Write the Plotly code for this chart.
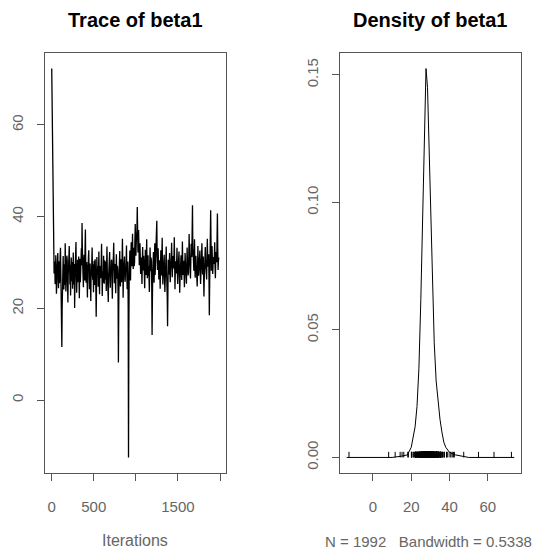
import plotly.graph_objects as go

# ---- data ----
# samples read at iterations 1, 9, 17, ... (every 8th)
trace_values_a = [
    72.3, 55.1, 40.2, 33.4, 29.1, 25.3, 31.6, 23.2, 28.7, 32.1,
    24.4, 30.3, 26.8, 33.2, 22.5, 11.6, 27.3, 31.4, 24.1, 29.6,
    34.2, 23.7, 27.1, 30.5, 21.3, 28.4, 33.6, 25.2, 22.8, 31.1,
    27.6, 24.3, 32.2, 26.4, 20.1, 29.3, 34.5, 23.4, 28.2, 25.7,
    31.3, 22.2, 30.8, 27.2, 33.1, 38.6, 29.5, 24.6, 31.7, 26.1,
    37.2, 25.6, 30.1, 22.4, 28.3, 32.7, 24.2, 29.8, 21.6, 27.4,
    33.3, 26.2, 23.5, 30.4, 25.1, 28.6, 18.2, 31.2, 27.8, 24.7,
    32.4, 23.1, 29.2, 26.6, 34.1, 22.7, 28.1, 31.5, 25.4, 27.7,
    30.2, 23.8, 33.5, 26.3, 21.4, 29.4, 32.3, 24.5, 27.5, 30.6,
    22.1, 28.8, 34.3, 25.5, 29.7, 23.3, 31.8, 26.5, 28.5, 8.2,
    27.2, 32.5, 24.8, 30.7, 26.7, 35.2, 22.3, 29.1, 31.3, 25.8,
    28.4, 33.7, 24.2, 30.2, -12.5, 27.1, 32.6, 26.1, 34.4, 29.2,
    36.3, 28.6, 33.2, 30.1, 38.4, 31.5, 35.3, 42.1, 32.2, 37.1,
    29.4, 34.2, 27.5, 31.1, 25.3, 33.4, 28.3, 30.6, 24.4, 32.8,
    27.3, 35.1, 26.6, 31.6, 29.2, 23.6, 33.3, 28.1, 30.3, 14.2,
    27.7, 32.3, 25.6, 34.2, 29.6, 31.2, 39.1, 28.4, 33.1, 26.3,
    30.5, 24.3, 32.7, 27.2, 35.4, 25.2, 29.3, 31.7, 23.6, 28.2,
    33.5, 26.4, 16.1, 30.6, 27.4, 32.1, 25.7, 29.1, 34.3, 26.8,
    31.4, 28.7, 35.5, 24.2, 30.3, 27.6, 33.2, 25.3, 29.5, 32.4,
    23.4, 28.3, 31.6, 26.2, 34.6, 27.3, 30.4, 24.6, 32.1, 28.5,
    25.4, 33.3, 29.2, 27.7, 36.2, 30.1, 26.5, 34.1, 31.2, 42.5,
    32.3, 28.2, 35.1, 26.7, 31.5, 29.4, 24.8, 33.6, 27.1, 30.7,
    32.6, 25.3, 29.6, 34.2, 27.4, 31.3, 22.6, 30.2, 33.4, 28.6,
    26.3, 35.2, 29.1, 31.8, 18.5, 30.4, 41.4, 28.2, 33.6, 27.5,
    31.2, 29.7, 34.4, 26.6, 32.3, 30.1, 40.7, 28.4, 31.1,
]
iterations_a = list(range(1, 1993, 8))

# samples read at iterations 5, 13, 21, ...
trace_values_b = [
    63.2, 47.4, 36.1, 27.6, 30.2, 26.4, 29.3, 25.8, 31.1, 27.2,
    28.3, 25.5, 31.4, 27.8, 24.6, 20.2, 30.1, 26.7, 28.4, 25.1,
    29.2, 26.3, 31.5, 24.8, 27.4, 31.2, 26.6, 29.5, 27.3, 25.9,
    30.1, 28.4, 25.2, 29.7, 26.1, 32.3, 27.5, 26.2, 30.6, 29.1,
    26.5, 28.2, 25.7, 31.3, 29.4, 33.1, 26.8, 30.2, 27.6, 33.4,
    29.3, 28.6, 26.1, 29.5, 31.2, 26.6, 28.1, 25.4, 27.7, 30.3,
    27.1, 29.6, 28.3, 25.5, 30.7, 24.4, 26.2, 27.3, 29.2, 28.8,
    26.4, 29.1, 27.6, 30.2, 28.5, 27.2, 25.6, 28.4, 30.5, 26.3,
    27.5, 29.4, 28.1, 24.7, 27.2, 30.1, 26.6, 28.7, 30.4, 25.3,
    27.8, 31.2, 28.3, 27.1, 25.6, 28.4, 27.4, 29.3, 22.5, 20.1,
    29.6, 27.2, 28.5, 25.7, 31.1, 28.3, 27.6, 30.2, 26.4, 28.1,
    30.5, 27.3, 28.6, 20.4, 15.2, 29.1, 28.2, 31.3, 30.4, 33.2,
    31.6, 32.4, 29.2, 35.1, 33.5, 34.3, 37.2, 35.6, 33.1, 31.4,
    32.2, 29.5, 30.3, 27.4, 30.6, 29.2, 31.5, 27.7, 29.1, 28.3,
    30.4, 28.2, 30.7, 27.1, 26.3, 29.6, 30.2, 31.1, 24.5, 22.2,
    29.4, 28.1, 30.6, 27.3, 32.2, 33.4, 31.3, 30.1, 28.6, 29.2,
    27.4, 29.1, 28.3, 31.2, 28.7, 27.1, 30.3, 26.5, 26.2, 30.1,
    28.4, 22.3, 25.2, 28.6, 30.1, 27.5, 28.2, 31.1, 29.3, 29.7,
    30.2, 31.3, 29.4, 28.1, 29.6, 30.4, 28.5, 27.2, 31.6, 28.3,
    26.2, 30.5, 28.1, 29.3, 30.2, 29.6, 27.5, 28.4, 30.1, 27.3,
    29.1, 30.3, 27.2, 31.4, 32.1, 28.5, 30.2, 32.3, 35.4, 33.2,
    30.4, 31.2, 29.5, 28.3, 30.1, 27.6, 28.2, 30.6, 29.1, 31.3,
    28.1, 27.3, 31.5, 30.2, 29.4, 28.6, 26.4, 31.1, 30.3, 27.2,
    30.6, 31.4, 30.1, 26.5, 25.3, 33.2, 34.1, 30.2, 30.5, 29.3,
    30.1, 31.6, 29.2, 30.4, 31.1, 34.2, 33.3, 30.3,
]
iterations_b = list(range(5, 1993, 8))

dens_x = [-13.7, 10, 15, 18, 20, 22, 23, 24, 25, 26, 27, 27.7, 28.5, 29, 30,
          31, 32, 33, 34, 35, 36, 37, 38, 40, 43, 50, 73.8]
dens_y = [0, 0, 0.0005, 0.001, 0.004, 0.012, 0.02, 0.035, 0.062, 0.10, 0.14,
          0.1525, 0.145, 0.13, 0.10, 0.07, 0.045, 0.03, 0.022, 0.015, 0.01,
          0.006, 0.004, 0.002, 0.001, 0, 0]

trace_xticks = [0, 500, 1000, 1500, 2000]
trace_xlabels = ["0", "500", "", "1500", ""]
trace_yticks = [0, 20, 40, 60]
dens_xticks = [0, 20, 40, 60]
dens_yticks = [0.00, 0.05, 0.10, 0.15]
dens_ylabels = ["0.00", "0.05", "0.10", "0.15"]

# merge the two sample lists in iteration order
pairs = sorted(zip(iterations_a + iterations_b, trace_values_a + trace_values_b))
iterations = [p[0] for p in pairs]
trace_values = [p[1] for p in pairs]

# rug of observations
rug_h = 0.0022
rug_x, rug_y = [], []
for v in trace_values:
    rug_x += [v, v, None]
    rug_y += [0, rug_h, None]

fig = go.Figure()
fig.add_trace(go.Scatter(x=iterations, y=trace_values, mode="lines",
                         line=dict(color="black", width=1.3), xaxis="x", yaxis="y",
                         showlegend=False, hoverinfo="skip"))
fig.add_trace(go.Scatter(x=dens_x, y=dens_y, mode="lines",
                         line=dict(color="black", width=1), xaxis="x2", yaxis="y2",
                         showlegend=False, hoverinfo="skip"))
fig.add_trace(go.Scatter(x=rug_x, y=rug_y, mode="lines",
                         line=dict(color="black", width=1), xaxis="x2", yaxis="y2",
                         showlegend=False, hoverinfo="skip"))

FONT = "Liberation Sans, Arial, sans-serif"
axcol = "#555555"
tickfont = dict(family=FONT, size=15, color="#666666")
common = dict(showline=True, mirror=True, linecolor=axcol, linewidth=1,
              ticks="outside", ticklen=7, tickcolor=axcol, showgrid=False,
              zeroline=False, tickfont=tickfont)

fig.update_layout(
    width=546, height=549,
    margin=dict(l=0, r=0, t=0, b=0),
    paper_bgcolor="white", plot_bgcolor="white",
    xaxis=dict(domain=[45/546, 226/546], range=[-79, 2071],
               tickvals=trace_xticks, ticktext=trace_xlabels,
               ticklabelstandoff=13, anchor="y", **common),
    yaxis=dict(domain=[1-473/549, 1-53/549], range=[-15.9, 75.7],
               tickvals=trace_yticks, tickangle=-90,
               ticklabelstandoff=8, anchor="x", **common),
    xaxis2=dict(domain=[340/546, 521/546], range=[-17.2, 77.3],
                tickvals=dens_xticks, ticklabelstandoff=13, anchor="y2", **common),
    yaxis2=dict(domain=[1-473/549, 1-53/549], range=[-0.0061, 0.1586],
                tickvals=dens_yticks, ticktext=dens_ylabels, tickangle=-90,
                ticklabelstandoff=8, anchor="x2", **common),
    annotations=[
        dict(text="<b>Trace of beta1</b>", x=135/546, y=1-20/549, xref="paper",
             yref="paper", xanchor="center", yanchor="middle", showarrow=False,
             font=dict(family=FONT, size=20, color="black")),
        dict(text="<b>Density of beta1</b>", x=430/546, y=1-20/549, xref="paper",
             yref="paper", xanchor="center", yanchor="middle", showarrow=False,
             font=dict(family=FONT, size=20, color="black")),
        dict(text="Iterations", x=135/546, y=1-540/549, xref="paper",
             yref="paper", xanchor="center", yanchor="middle", showarrow=False,
             font=dict(family=FONT, size=16, color="#666666")),
        dict(text="N = 1992   Bandwidth = 0.5338", x=428/546, y=1-541/549,
             xref="paper", yref="paper", xanchor="center", yanchor="middle",
             showarrow=False, font=dict(family=FONT, size=15, color="#666666")),
    ],
)

fig.write_html("out.html")
